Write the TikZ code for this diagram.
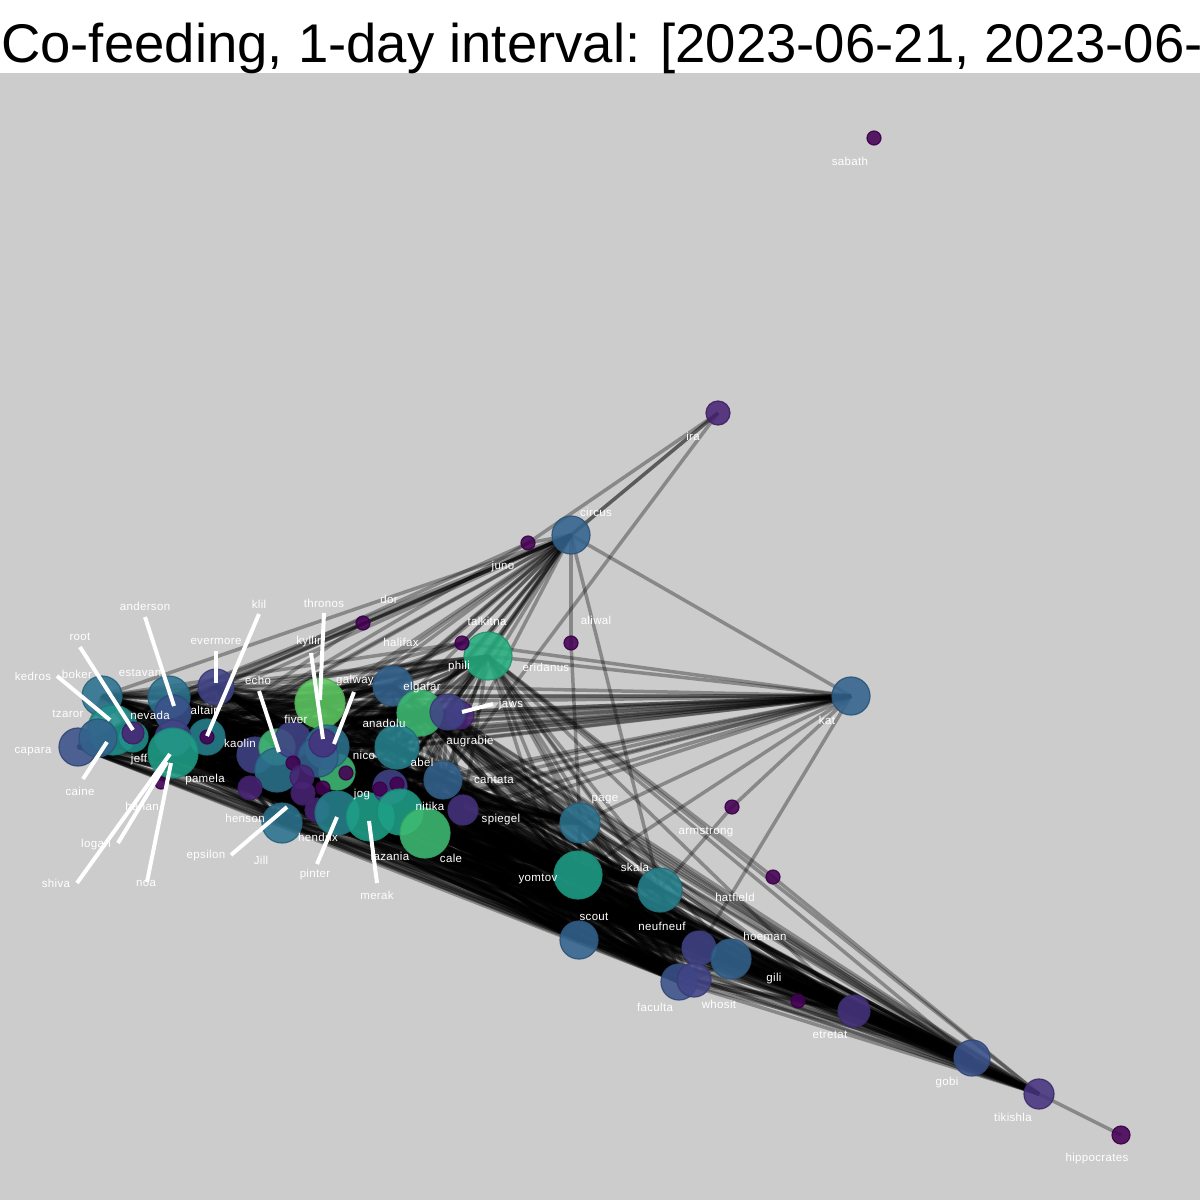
\documentclass[tikz,border=0pt]{standalone}
\usepackage{fontspec}
\setmainfont{Liberation Sans}
\newfontfamily\lblfont[LetterSpace=3]{Liberation Sans}
\pgfdeclarelayer{bg}
\pgfdeclarelayer{edges}
\pgfsetlayers{bg,edges,main}
\definecolor{vA}{HTML}{440154}
\definecolor{vB}{HTML}{482475}
\definecolor{vC}{HTML}{46337E}
\definecolor{vD}{HTML}{414487}
\definecolor{vE}{HTML}{3B528B}
\definecolor{vF}{HTML}{33638D}
\definecolor{vG}{HTML}{2C728E}
\definecolor{vH}{HTML}{26828E}
\definecolor{vI}{HTML}{21918C}
\definecolor{vJ}{HTML}{1FA088}
\definecolor{vK}{HTML}{28AE80}
\definecolor{vL}{HTML}{3FBC73}
\definecolor{vM}{HTML}{5EC962}
\definecolor{bggray}{HTML}{CCCCCC}
\newcommand\vnode[5]{\node[vtx,fill=#4,draw=#4!85!black,minimum size={#5pt*2}] (#1) at (#2,#3) {};}
\newcommand\vlabel[3]{\node[lbl] (l-#1) at (#2,#3) {#1};}
\begin{document}
\begin{tikzpicture}[x=1pt,y=-1pt,
  vtx/.style={circle,inner sep=0pt,line width=1.2pt,fill opacity=0.88,draw opacity=0.9},
  edge/.style={draw=black,line width=3.5pt,draw opacity=0.33},
  leader/.style={draw=white,line width=4pt},
  lbl/.style={text=white,font=\lblfont\fontsize{11.5}{12}\selectfont,inner sep=0pt}]
\useasboundingbox (0,0) rectangle (1200,1200);
\clip (0,0) rectangle (1200,1200);
\begin{pgfonlayer}{bg}
\fill[white] (0,0) rectangle (1200,73);
\fill[bggray] (0,73) rectangle (1200,1200);
\node[anchor=base west,inner sep=0pt,font=\fontsize{54.5}{60}\selectfont] (title) at (1,62) {Co-feeding, 1-day interval: [2023-06-21, 2023-06-};
\end{pgfonlayer}

% isolated / outer nodes
\vnode{sabath}{874}{138}{vA}{7}
\vnode{ira}{718}{413}{vB}{12}
\vnode{circus}{571}{535}{vF}{19}
\vnode{juno}{528}{543}{vA}{7}
\vnode{aliwal}{571}{643}{vA}{7}
\vnode{kat}{851}{696}{vF}{19}
\vnode{armstrong}{732}{807}{vA}{7}
\vnode{hatfield}{773}{877}{vA}{7}
\vnode{gili}{798}{1001}{vA}{7}
\vnode{etretat}{854}{1011}{vC}{16}
\vnode{gobi}{972}{1058}{vE}{18}
\vnode{tikishla}{1039}{1094}{vC}{15}
\vnode{hippocrates}{1121}{1135}{vA}{9}
% right chain
\vnode{page}{580}{823}{vG}{20}
\vnode{yomtov}{578}{875}{vJ}{24}
\vnode{skala}{660}{890}{vH}{22}
\vnode{scout}{579}{940}{vF}{19}
\vnode{neufneuf}{699}{948}{vD}{17}
\vnode{hoeman}{731}{959}{vF}{20}
\vnode{faculta}{679}{982}{vE}{18}
\vnode{whosit}{694}{980}{vD}{17}
% left cluster
\vnode{boker}{102}{696}{vG}{20}
\vnode{estavan}{169}{697}{vG}{21}
\vnode{evermore}{216}{687}{vD}{18}
\vnode{capara}{78}{747}{vE}{19}
\vnode{tzaror}{113}{730}{vI}{25}
\vnode{caine}{98}{738}{vF}{19}
\vnode{estavanb}{173}{713}{vE}{18}
\vnode{nevadaring}{133}{737}{vI}{15}
\vnode{nevada}{133}{733}{vB}{11}
\vnode{altair}{207}{737}{vH}{18}
\vnode{altairb}{207}{737}{vA}{7}
\vnode{sp7}{161}{783}{vA}{6}
\vnode{jeffb}{173}{738}{vD}{18}
\vnode{jeff}{173}{753}{vJ}{25}
% middle cluster
\vnode{kaolin}{255}{755}{vD}{18}
\vnode{green1}{277}{747}{vL}{18}
\vnode{teal1}{277}{770}{vG}{22}
\vnode{pp1}{250}{788}{vB}{12}
\vnode{fiver}{293}{740}{vD}{18}
\vnode{thronos}{320}{703}{vM}{25}
\vnode{green2}{337}{772}{vL}{18}
\vnode{teal2}{327}{747}{vG}{22}
\vnode{blue2}{318}{757}{vF}{20}
\vnode{kyllin}{323}{743}{vC}{14}
\vnode{sp1}{293}{763}{vA}{7}
\vnode{sp2}{302}{777}{vB}{12}
\vnode{sp3}{303}{793}{vB}{12}
\vnode{sp4}{346}{773}{vA}{7}
\vnode{sp5}{323}{788}{vA}{7}
\vnode{sp6}{317}{810}{vB}{12}
\vnode{henson}{282}{823}{vG}{20}
\vnode{hendrix}{337}{813}{vH}{22}
\vnode{jog}{370}{817}{vJ}{24}
% right part of cluster
\vnode{elgafarb}{393}{686}{vF}{20}
\vnode{elgafar}{420}{713}{vL}{23}
\vnode{jawsb}{460}{715}{vB}{14}
\vnode{jaws}{448}{712}{vD}{18}
\vnode{anadolu}{397}{747}{vH}{22}
\vnode{abel}{390}{787}{vD}{17}
\vnode{abelb}{397}{784}{vA}{7}
\vnode{abelc}{380}{789}{vA}{7}
\vnode{cantata}{443}{780}{vF}{19}
\vnode{spiegel}{463}{810}{vC}{15}
\vnode{nitika}{400}{812}{vJ}{23}
\vnode{cale}{425}{833}{vL}{25}
\vnode{talkitna}{488}{656}{vK}{24}
\vnode{halifax}{462}{643}{vA}{7}
\vnode{dor}{363}{623}{vA}{7}

\def\Alist{boker,estavan,estavanb,evermore,tzaror,capara,caine,nevada,altair,jeff,jeffb,kaolin,teal1,pp1,fiver,thronos,teal2,blue2,kyllin,henson,hendrix,jog,nitika,cale,abel,cantata,spiegel,anadolu,elgafar,elgafarb,jaws,talkitna}
\def\Blist{page,yomtov,skala,scout,neufneuf,hoeman,faculta,whosit,etretat,gobi,tikishla}
\begin{pgfonlayer}{edges}
\foreach \a [count=\i] in \Alist {
  \foreach \b [count=\j] in \Alist {
    \ifnum\j>\i \draw[edge] (\a.center) -- (\b.center); \fi
  }
}
\foreach \a in \Alist {
  \foreach \b in \Blist { \draw[edge] (\a.center) -- (\b.center); }
}
\foreach \a [count=\i] in \Blist {
  \foreach \b [count=\j] in \Blist {
    \ifnum\j>\i \draw[edge] (\a.center) -- (\b.center); \fi
  }
}
\foreach \b in {boker,estavan,evermore,tzaror,capara,nevada,altair,jeff,kaolin,fiver,thronos,teal2,kyllin,henson,hendrix,jog,nitika,abel,cantata,anadolu,elgafar,elgafarb,jaws,talkitna,dor,juno,halifax,aliwal,skala,kat,ira,ira}
  \draw[edge] (circus.center) -- (\b.center);
\foreach \b in {boker,estavan,tzaror,capara,nevada,altair,jeff,kaolin,fiver,thronos,teal2,blue2,kyllin,hendrix,jog,nitika,cale,abel,cantata,spiegel,anadolu,elgafar,elgafarb,jaws,talkitna,yomtov,armstrong,neufneuf,page,halifax}
  \draw[edge] (kat.center) -- (\b.center);
\foreach \a/\b in {ira/juno,ira/cantata,aliwal/page,armstrong/skala,talkitna/hatfield,hatfield/tikishla,tikishla/hippocrates,whosit/gili,gili/etretat,dor/estavan,dor/jeff,halifax/boker,halifax/tzaror,halifax/jeff,halifax/thronos,juno/tzaror,juno/jeff}
  \draw[edge] (\a.center) -- (\b.center);
\end{pgfonlayer}

% labels
\vlabel{sabath}{850}{161}
\vlabel{ira}{693}{436}
\vlabel{circus}{596}{512}
\vlabel{juno}{503}{567}
\vlabel{aliwal}{596}{620}
\vlabel{eridanus}{546}{667}
\vlabel{talkitna}{487}{621}
\vlabel{halifax}{401}{642}
\vlabel{dor}{389}{599}
\vlabel{phili}{459}{667}
\vlabel{jaws}{511}{705}
\vlabel{elgafar}{422}{688}
\vlabel{anadolu}{384}{723}
\vlabel{augrabie}{470}{742}
\vlabel{abel}{422}{762}
\vlabel{cantata}{494}{780}
\vlabel{nitika}{430}{806}
\vlabel{spiegel}{501}{820}
\vlabel{cale}{451}{858}
\vlabel{yomtov}{538}{879}
\vlabel{page}{605}{800}
\vlabel{skala}{635}{867}
\vlabel{scout}{594}{917}
\vlabel{neufneuf}{662}{926}
\vlabel{hoeman}{765}{936}
\vlabel{hatfield}{735}{897}
\vlabel{armstrong}{706}{832}
\vlabel{kat}{827}{720}
\vlabel{gili}{774}{979}
\vlabel{faculta}{655}{1007}
\vlabel{whosit}{719}{1004}
\vlabel{etretat}{830}{1035}
\vlabel{gobi}{947}{1083}
\vlabel{tikishla}{1013}{1117}
\vlabel{hippocrates}{1097}{1159}
\vlabel{lazania}{390}{856}
\vlabel{hendrix}{318}{837}
\vlabel{Jill}{261}{860}
\vlabel{henson}{245}{818}
\vlabel{jog}{362}{795}
\vlabel{nico}{364}{755}
\vlabel{fiver}{296}{719}
\vlabel{kaolin}{240}{743}
\vlabel{altair}{204}{710}
\vlabel{pamela}{205}{780}
\vlabel{hanan}{142}{806}
\vlabel{capara}{33}{752}
\vlabel{tzaror}{68}{714}
\vlabel{boker}{77}{674}
\vlabel{estavan}{140}{673}
\vlabel{nevada}{150}{715}
\vlabel{jeff}{139}{760}

% leader lines
\draw[leader] (145,617) -- (174,706);
\draw[leader] (80,647) -- (133,730);
\draw[leader] (57,676) -- (110,720);
\draw[leader] (83,779) -- (107,742);
\draw[leader] (216,651) -- (216,683);
\draw[leader] (259,614) -- (207,736);
\draw[leader] (324,613) -- (320,700);
\draw[leader] (311,653) -- (323,739);
\draw[leader] (354,692) -- (334,744);
\draw[leader] (259,691) -- (279,752);
\draw[leader] (231,855) -- (287,807);
\draw[leader] (317,864) -- (337,817);
\draw[leader] (377,883) -- (369,821);
\draw[leader] (462,712) -- (493,704);
\draw[leader] (118,843) -- (167,762);
\draw[leader] (77,883) -- (170,754);
\draw[leader] (147,882) -- (171,763);

% labels with leaders
\vlabel{anderson}{145}{606}
\vlabel{root}{80}{637}
\vlabel{kedros}{33}{676}
\vlabel{caine}{80}{791}
\vlabel{evermore}{216}{641}
\vlabel{klil}{259}{604}
\vlabel{thronos}{324}{603}
\vlabel{kyllin}{310}{642}
\vlabel{galway}{355}{681}
\vlabel{echo}{258}{680}
\vlabel{epsilon}{206}{856}
\vlabel{pinter}{315}{875}
\vlabel{merak}{377}{895}
\vlabel{logan}{96}{845}
\vlabel{shiva}{56}{883}
\vlabel{noa}{146}{883}
\end{tikzpicture}
\end{document}
